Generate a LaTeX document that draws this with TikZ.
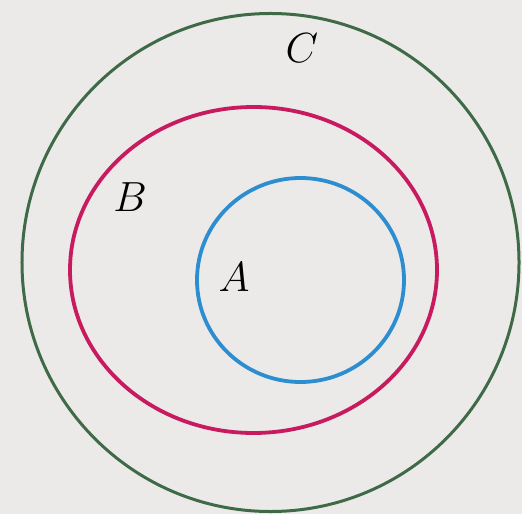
\documentclass[tikz,border=0pt]{standalone}
\usetikzlibrary{shapes.geometric}
\definecolor{bg}{HTML}{ECEAE8}
\definecolor{cgreen}{HTML}{3F6A48}
\definecolor{cpink}{HTML}{C81A5E}
\definecolor{cblue}{HTML}{2C8ED0}
\tikzset{
  setshape/.style={ellipse, inner sep=0pt, outer sep=0pt, draw},
  lbl/.style={font=\Huge, inner sep=0pt, scale=1.7, transform shape}
}
\begin{document}
\begin{tikzpicture}[x=1bp,y=-1bp]
\fill[bg] (0,0) rectangle (522,514);
\useasboundingbox (0,0) rectangle (522,514);
\node[setshape, draw=cgreen, line width=3bp, minimum width=497bp, minimum height=498bp] (C) at (270.5,262.5) {};
\node[setshape, draw=cpink, line width=3.8bp, minimum width=367bp, minimum height=326bp] (B) at (253.5,270) {};
\node[setshape, draw=cblue, line width=3.8bp, minimum width=207bp, minimum height=204bp] (A) at (300.5,280) {};
\node[lbl] (lC) at (302,48) {$C$};
\node[lbl] (lB) at (130,197) {$B$};
\node[lbl] (lA) at (234,277) {$A$};
\end{tikzpicture}
\end{document}
